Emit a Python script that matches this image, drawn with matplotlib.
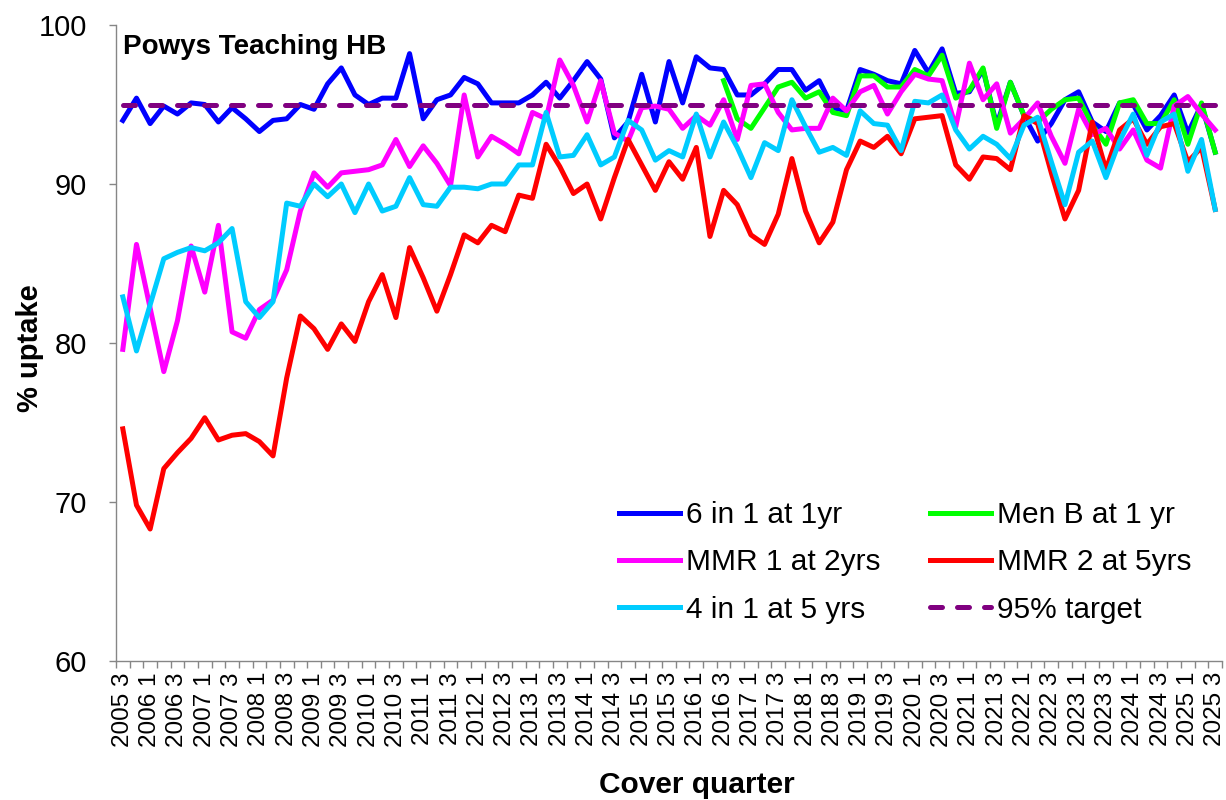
import numpy as np
import matplotlib
matplotlib.use("Agg")
import matplotlib.pyplot as plt

plt.rcParams["font.family"] = ["Liberation Sans", "DejaVu Sans"]

# Cover quarters 2005 Q3 .. 2025 Q3
years = list(range(2005, 2026))
quarters = [f"{y} {q}" for y in years for q in (1, 2, 3, 4)]
quarters = quarters[2:quarters.index("2025 3") + 1]

six_in_one = [94.0, 95.4, 93.8, 94.9, 94.4, 95.1, 95.0, 93.9, 94.8, 94.1,
              93.3, 94.0, 94.1, 95.0, 94.7, 96.3, 97.3, 95.6, 95.0, 95.4,
              95.4, 98.2, 94.1, 95.3, 95.6, 96.7, 96.3, 95.1, 95.1, 95.1,
              95.6, 96.4, 95.4, 96.5, 97.7, 96.6, 92.9, 93.9, 96.9, 93.9,
              97.7, 95.1, 98.0, 97.3, 97.2, 95.6, 95.6, 96.3, 97.2, 97.2,
              95.9, 96.5, 94.8, 94.6, 97.2, 96.9, 96.5, 96.3, 98.4, 97.0,
              98.5, 95.7, 95.8, 97.2, 93.7, 96.4, 94.3, 92.7, 93.8, 95.3,
              95.8, 93.9, 93.3, 95.1, 95.0, 93.4, 94.3, 95.6, 93.2, 95.0, 92.0]

# Men B only reported from 2016 Q3
men_b = [96.5, 94.1, 93.5, 94.8, 96.1, 96.4,
         95.4, 95.8, 94.5, 94.3, 96.8, 96.8, 96.1, 96.1, 97.2, 96.8,
         98.1, 95.4, 95.9, 97.3, 93.5, 96.4, 94.3, 93.9, 94.7, 95.3,
         95.4, 93.7, 92.5, 95.1, 95.3, 93.8, 93.8, 95.3, 92.5, 95.1, 92.0]

mmr1 = [79.6, 86.2, 82.2, 78.2, 81.4, 86.1, 83.2, 87.4, 80.7, 80.3,
        82.1, 82.7, 84.6, 88.3, 90.7, 89.8, 90.7, 90.8, 90.9, 91.2,
        92.8, 91.1, 92.4, 91.3, 89.9, 95.6, 91.7, 93.0, 92.5, 91.9,
        94.5, 94.1, 97.8, 96.2, 93.9, 96.5, 93.2, 92.7, 94.8, 94.9,
        94.7, 93.5, 94.3, 93.7, 95.3, 92.8, 96.2, 96.3, 94.5, 93.4,
        93.5, 93.5, 95.4, 94.6, 95.8, 96.2, 94.4, 95.8, 96.9, 96.6,
        96.5, 93.6, 97.6, 95.3, 96.3, 93.2, 94.1, 95.1, 93.0, 91.3,
        94.7, 93.1, 93.5, 92.2, 93.4, 91.5, 91.0, 94.9, 95.5, 94.4, 93.4]

mmr2 = [74.6, 69.8, 68.3, 72.1, 73.1, 74.0, 75.3, 73.9, 74.2, 74.3,
        73.8, 72.9, 77.8, 81.7, 80.9, 79.6, 81.2, 80.1, 82.6, 84.3,
        81.6, 86.0, 84.1, 82.0, 84.3, 86.8, 86.3, 87.4, 87.0, 89.3,
        89.1, 92.5, 91.1, 89.4, 90.0, 87.8, 90.4, 92.8, 91.2, 89.6,
        91.4, 90.3, 92.3, 86.7, 89.6, 88.7, 86.8, 86.2, 88.1, 91.6,
        88.3, 86.3, 87.6, 90.9, 92.7, 92.3, 93.0, 91.9, 94.1, 94.2,
        94.3, 91.2, 90.3, 91.7, 91.6, 90.9, 94.3, 93.8, 90.7, 87.8,
        89.6, 93.9, 90.9, 93.4, 94.1, 92.5, 93.6, 93.8, 91.4, 92.3, 88.4]

four_in_one = [82.9, 79.5, 82.4, 85.3, 85.7, 86.0, 85.8, 86.3, 87.2, 82.6,
               81.6, 82.6, 88.8, 88.6, 90.0, 89.2, 90.0, 88.2, 90.0, 88.3,
               88.6, 90.4, 88.7, 88.6, 89.8, 89.8, 89.7, 90.0, 90.0, 91.2,
               91.2, 94.5, 91.7, 91.8, 93.1, 91.2, 91.7, 94.0, 93.4, 91.5,
               92.1, 91.7, 94.4, 91.7, 93.9, 92.3, 90.4, 92.6, 92.1, 95.3,
               93.6, 92.0, 92.3, 91.8, 94.6, 93.8, 93.7, 92.1, 95.2, 95.1,
               95.6, 93.4, 92.2, 93.0, 92.5, 91.6, 93.7, 94.2, 91.4, 88.7,
               92.0, 92.7, 90.4, 92.7, 94.4, 91.8, 93.9, 94.4, 90.8, 92.8, 88.4]

target = 95

x = np.arange(len(quarters))
men_b_full = [np.nan] * (len(quarters) - len(men_b)) + men_b

fig = plt.figure(figsize=(12.26, 8), dpi=100)
ax = fig.add_axes([116 / 1226, 1 - 661 / 800, 1106 / 1226, 636 / 800])

lw = 3.6
ax.plot(x, six_in_one, color="#0000FF", lw=lw, label="6 in 1 at 1yr", zorder=2)
ax.plot(x, men_b_full, color="#00FF00", lw=lw, label="Men B at 1 yr", zorder=3)
ax.plot(x, mmr1, color="#FF00FF", lw=lw, label="MMR 1 at 2yrs", zorder=4)
ax.plot(x, mmr2, color="#FF0000", lw=lw, label="MMR 2 at 5yrs", zorder=5)
ax.plot(x, four_in_one, color="#00CCFF", lw=lw, label="4 in 1 at 5 yrs", zorder=6)
ax.plot(x, [target] * len(x), color="#800080", lw=lw, dashes=(2.4, 3.0),
        dash_capstyle="round", label="95% target", zorder=7)

ax.set_xlim(-0.5, len(x) - 0.5)
ax.set_ylim(60, 100)
ax.set_yticks([60, 70, 80, 90, 100])

# labels every other quarter, tick marks on category boundaries
ax.set_xticks(x[::2])
ax.set_xticklabels(quarters[::2], rotation=90, fontsize=17.5)
ax.set_xticks(np.arange(-0.5, len(x), 1), minor=True)
ax.tick_params(axis="x", which="major", length=0, pad=8)
ax.tick_params(axis="x", which="minor", length=5, width=1, color="#868686")
ax.tick_params(axis="y", length=5, width=1, color="#868686", labelsize=21, pad=16)

for s in ("top", "right"):
    ax.spines[s].set_visible(False)
for s in ("left", "bottom"):
    ax.spines[s].set_color("#868686")
    ax.spines[s].set_linewidth(1)

fig.text(123 / 1226, 1 - 47 / 800, "Powys Teaching HB", fontsize=20,
         fontweight="bold", va="center", ha="left")
fig.text(30 / 1226, 1 - 348 / 800, "% uptake", rotation=90, fontsize=21,
         fontweight="bold", va="center", ha="center")
fig.text(697 / 1226, 1 - 785 / 800, "Cover quarter", fontsize=21.5,
         fontweight="bold", va="center", ha="center")

h, l = ax.get_legend_handles_labels()
order = [0, 2, 4, 1, 3, 5]
ax.legend([h[i] for i in order], [l[i] for i in order], ncol=2, frameon=False,
          fontsize=21.5, handlelength=2.05, handletextpad=0.2, columnspacing=1.65,
          labelspacing=0.65, loc="upper left", borderpad=0, borderaxespad=0,
          bbox_to_anchor=(619 / 1226, 1 - 501 / 800),
          bbox_transform=fig.transFigure)

fig.savefig("out.png", dpi=100)
